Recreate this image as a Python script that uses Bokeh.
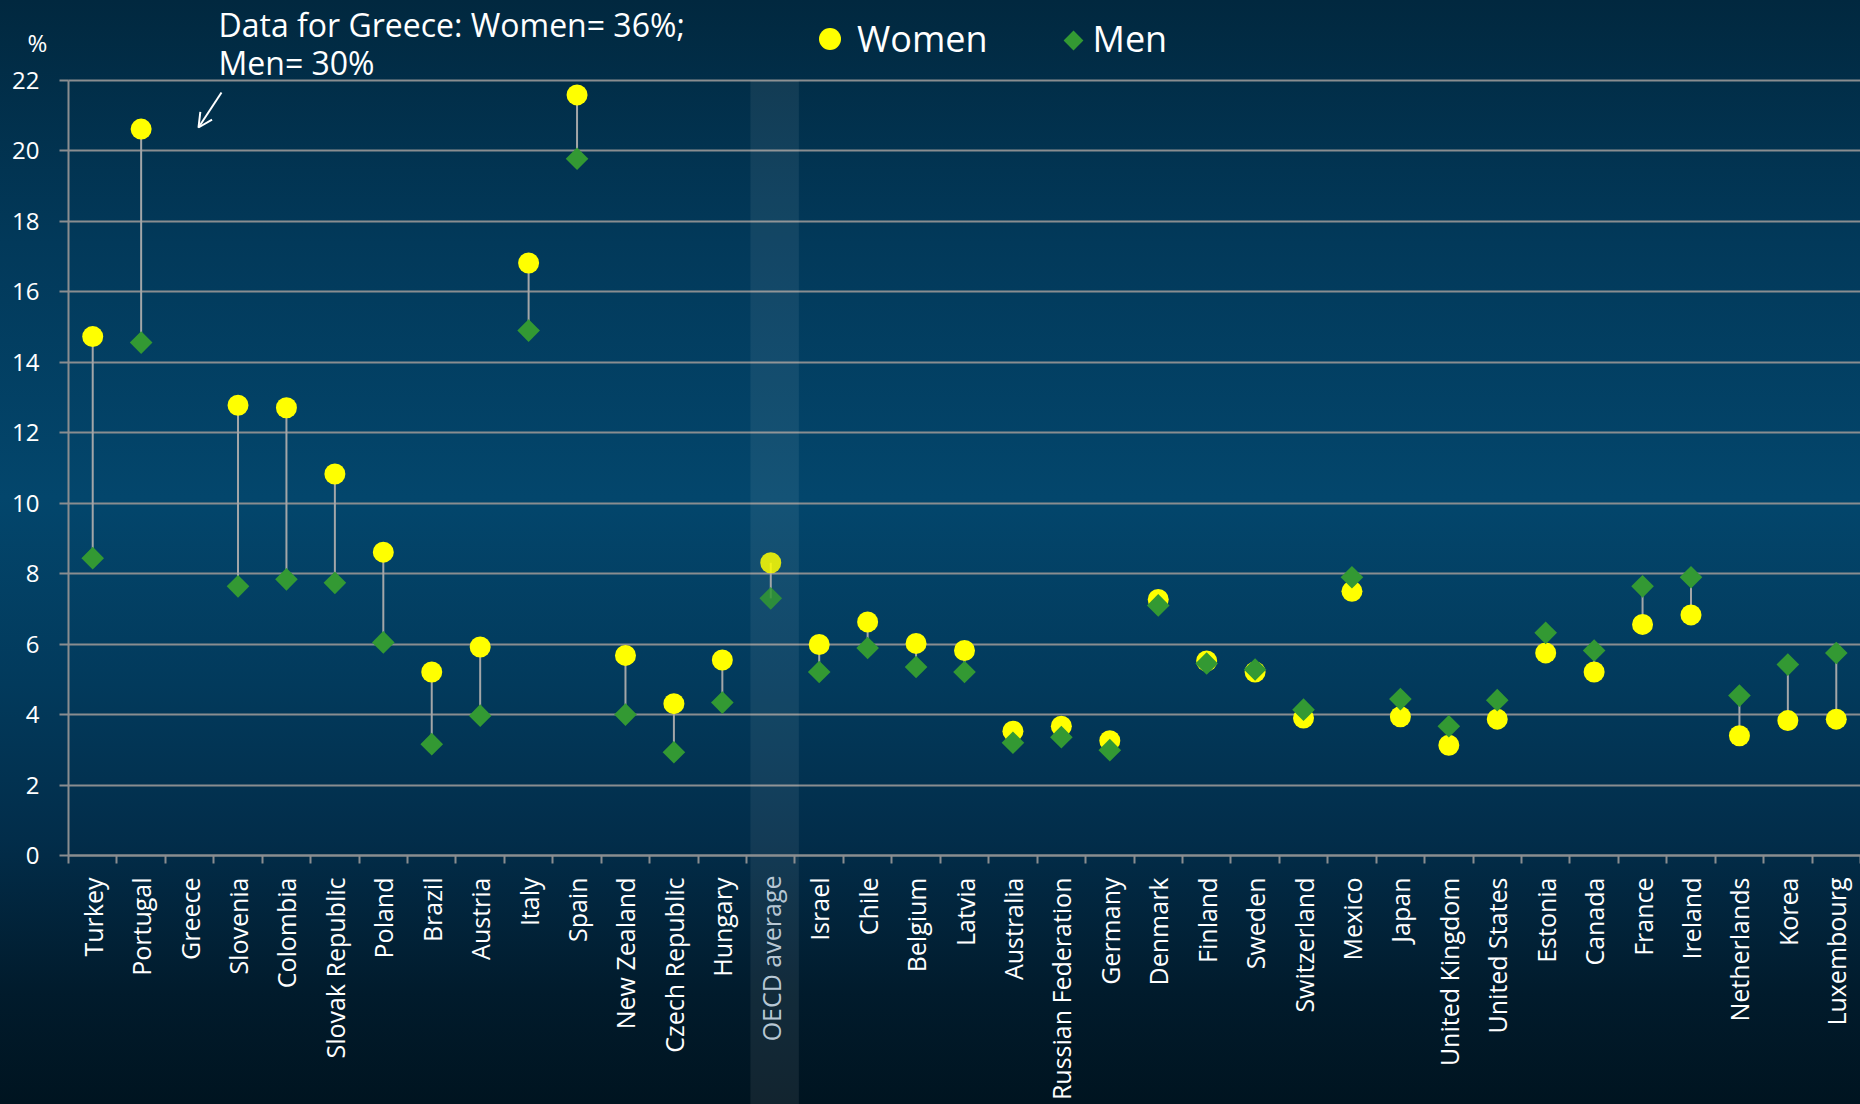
import math
from bokeh.plotting import figure
from bokeh.models import (ColumnDataSource, Range1d, FixedTicker, Legend, LegendItem,
                          Label, Arrow, OpenHead, BoxAnnotation, Grid)
from bokeh.embed import file_html
from bokeh.resources import INLINE

NAN = float("nan")

countries = ["Turkey", "Portugal", "Greece", "Slovenia", "Colombia", "Slovak Republic",
             "Poland", "Brazil", "Austria", "Italy", "Spain", "New Zealand",
             "Czech Republic", "Hungary", "OECD average", "Israel", "Chile", "Belgium",
             "Latvia", "Australia", "Russian Federation", "Germany", "Denmark", "Finland",
             "Sweden", "Switzerland", "Mexico", "Japan", "United Kingdom", "United States",
             "Estonia", "Canada", "France", "Ireland", "Netherlands", "Korea", "Luxembourg"]

women = [14.73, 20.62, NAN, 12.78, 12.71, 10.83, 8.61, 5.21, 5.92, 16.82, 21.59, 5.68,
         4.31, 5.55, 8.31, 5.99, 6.63, 6.02, 5.82, 3.53, 3.67, 3.26, 7.27, 5.52,
         5.21, 3.90, 7.50, 3.94, 3.13, 3.87, 5.75, 5.21, 6.56, 6.83, 3.40, 3.83, 3.87]

men = [8.44, 14.56, NAN, 7.64, 7.84, 7.74, 6.05, 3.16, 3.97, 14.90, 19.78, 4.00,
       2.93, 4.34, 7.30, 5.21, 5.89, 5.35, 5.21, 3.20, 3.36, 2.99, 7.10, 5.45,
       5.28, 4.14, 7.90, 4.44, 3.67, 4.41, 6.32, 5.82, 7.64, 7.90, 4.54, 5.42, 5.75]

y_ticks = list(range(0, 23, 2))
y_max = 22
highlight = "OECD average"
greece_note = ["Data for Greece: Women= 36%;", "Men= 30%"]

FONT = "Open Sans"
GRID = "#8a8d90"
WHITE = "#ffffff"
YELLOW = "#ffff00"
GREEN = "#339933"

# canvas layout (pixels): the frame fills the canvas, axes are placed inside it
W, H = 1860, 1104
LEFT, TOP, BOTTOM = 68, 80, 249
n = len(countries)
cat_px = (W - LEFT) / n
unit_px = (H - TOP - BOTTOM) / y_max
x_start = -0.5 - LEFT / cat_px
y_start = -BOTTOM / unit_px
y_end = y_max + TOP / unit_px


def px_x(px):
    return x_start + px / cat_px


def px_y(py):
    return y_end - py / unit_px


xs = list(range(n))
alphas = [0.85 if c == highlight else 1.0 for c in countries]
src = ColumnDataSource(dict(x=xs, women=women, men=men, alpha=alphas))

p = figure(width=W, height=H, output_backend="svg", toolbar_location=None,
           x_range=Range1d(x_start, n - 0.5), y_range=Range1d(y_start, y_end),
           min_border=0, min_border_left=0, min_border_right=0, min_border_top=0,
           min_border_bottom=0,
           border_fill_color=None, background_fill_color=None, outline_line_color=None,
           styles={"background": "linear-gradient(180deg, #01283f 0%, #02395a 22%, #03466c 45%, #023a5c 62%, #022d4a 76%, #011b2c 90%, #001420 100%)"})

hi = countries.index(highlight)
band = BoxAnnotation(left=hi - 0.5 + 0.08, right=hi + 0.5 + 0.08, top=y_max, bottom=y_start,
                     fill_color="#ffffff", fill_alpha=0.07, line_color=None, level="underlay")
p.add_layout(band)

# axes (fixed inside the frame)
p.xaxis.fixed_location = 0
p.xaxis.bounds = (-0.5, n - 0.5)
p.xaxis.ticker = FixedTicker(ticks=xs, minor_ticks=[i - 0.5 for i in range(n + 1)])
p.xaxis.major_label_overrides = {i: ("" if c == highlight else c) for i, c in enumerate(countries)}
p.xaxis.major_label_orientation = math.pi / 2
p.xaxis.major_tick_line_color = None
p.xaxis.major_tick_out = 0
p.xaxis.major_tick_in = 0
p.xaxis.minor_tick_line_color = GRID
p.xaxis.minor_tick_line_width = 2
p.xaxis.minor_tick_out = 8
p.xaxis.minor_tick_in = 0
p.xaxis.major_label_standoff = 14
p.xaxis.major_label_text_font = FONT
p.xaxis.major_label_text_font_size = "25px"
p.xaxis.major_label_text_color = WHITE
p.xaxis.axis_line_color = GRID
p.xaxis.axis_line_width = 2

p.yaxis.fixed_location = -0.5
p.yaxis.bounds = (0, y_max)
p.yaxis.ticker = FixedTicker(ticks=y_ticks)
p.yaxis.major_tick_line_color = GRID
p.yaxis.major_tick_line_width = 2
p.yaxis.major_tick_out = 9
p.yaxis.major_tick_in = 0
p.yaxis.minor_tick_line_color = None
p.yaxis.major_label_standoff = 20
p.yaxis.major_label_text_font = FONT
p.yaxis.major_label_text_font_size = "24px"
p.yaxis.major_label_text_color = WHITE
p.yaxis.axis_line_color = GRID
p.yaxis.axis_line_width = 2

p.xgrid.grid_line_color = None
if "cross_bounds" in Grid.properties():
    p.ygrid.ticker = FixedTicker(ticks=y_ticks)
    p.ygrid.cross_bounds = (-0.5, n - 0.5)
    p.ygrid.grid_line_color = GRID
    p.ygrid.grid_line_width = 2
else:
    p.ygrid.grid_line_color = None
    p.segment(x0=[-0.5] * len(y_ticks), y0=y_ticks, x1=[n - 0.5] * len(y_ticks), y1=y_ticks,
              line_color=GRID, line_width=2, level="underlay")

# data
p.segment(x0="x", y0="women", x1="x", y1="men", source=src,
          line_color="#a3a6a8", line_width=2)
rw = p.scatter("x", "women", source=src, marker="circle", size=21,
               fill_color=YELLOW, fill_alpha="alpha", line_color=None)
rm = p.scatter("x", "men", source=src, marker="square", angle=math.pi / 4, size=16,
               fill_color=GREEN, fill_alpha="alpha", line_color=None)

# OECD label (dimmed)
p.add_layout(Label(x=hi, y=px_y(875), text=highlight, angle=math.pi / 2,
                   text_align="right", text_baseline="middle", text_color="#b7c7d4",
                   text_font=FONT, text_font_size="25px"))

# legends (location = bottom-left corner, pixels from the frame's bottom-left)
leg_w = Legend(items=[LegendItem(label="Women", renderers=[rw])], location=(802, H - 65.5),
               orientation="horizontal", glyph_width=55, glyph_height=55, label_standoff=-15,
               padding=0, margin=0, spacing=0, background_fill_alpha=0, border_line_color=None,
               label_text_color=WHITE, label_text_font=FONT, label_text_font_size="36px")
p.add_layout(leg_w, "center")

# the legend cannot rotate its key, so the men's key (a diamond) is drawn at the key's place
men_key_src = ColumnDataSource(dict(x=[], y=[]))
rm_key = p.scatter("x", "y", source=men_key_src, marker="square", size=14,
                   fill_color=GREEN, fill_alpha=0, line_alpha=0)
leg_m = Legend(items=[LegendItem(label="Men", renderers=[rm_key])], location=(1055.5, H - 65.5),
               orientation="horizontal", glyph_width=35, glyph_height=55, label_standoff=2,
               padding=0, margin=0, spacing=0, background_fill_alpha=0, border_line_color=None,
               label_text_color=WHITE, label_text_font=FONT, label_text_font_size="36px")
p.add_layout(leg_m, "center")
p.scatter(x=[px_x(1073)], y=[px_y(40)], marker="square", angle=math.pi / 4, size=14,
          fill_color=GREEN, line_color=None)

# annotations
p.add_layout(Label(x=px_x(37), y=px_y(41.5), text="%", text_align="center",
                   text_baseline="alphabetic", text_color=WHITE,
                   text_font=FONT, text_font_size="24px"))
p.add_layout(Label(x=px_x(218), y=px_y(23.5), text=greece_note[0], text_baseline="alphabetic",
                   text_color=WHITE, text_font=FONT, text_font_size="32px"))
p.add_layout(Label(x=px_x(218), y=px_y(61.5), text=greece_note[1], text_baseline="alphabetic",
                   text_color=WHITE, text_font=FONT, text_font_size="32px"))
p.add_layout(Arrow(x_start=px_x(221), y_start=px_y(92), x_end=px_x(198), y_end=px_y(127),
                   line_color=WHITE, line_width=2,
                   end=OpenHead(size=14, line_color=WHITE, line_width=2)))

open("out.html", "w").write(file_html(p, INLINE))
